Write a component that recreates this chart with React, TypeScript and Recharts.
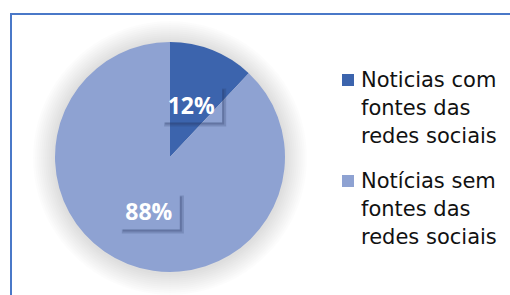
import React from "react";
import { PieChart, Pie, Cell, Legend } from "recharts";

const categories = [
  "Noticias com fontes das redes sociais",
  "Notícias sem fontes das redes sociais",
];
const values = [12, 88];
const colors = ["#3C64AD", "#8EA2D2"];

const data = categories.map((name, i) => ({ name, value: values[i] }));

const RAD = Math.PI / 180;
const glowRadii = [137, 135, 133, 131, 129, 127, 125, 123, 121, 119, 117];

const renderLabel = (props: any) => {
  const { cx, cy, midAngle, outerRadius, percent } = props;
  const r = outerRadius * 0.5;
  const x = cx + r * Math.cos(-midAngle * RAD);
  const y = cy + r * Math.sin(-midAngle * RAD);
  const w = 62;
  const h = 38;
  const l = x - w / 2;
  const t = y - h / 2;
  const o = 4;
  const d = `M${l + w},${t + o} L${l + w + o},${t + o} L${l + w + o},${t + h + o} L${l + o},${t + h + o} L${l + o},${t + h} L${l + w},${t + h} Z`;
  const d2 = `M${l + w},${t + o + 1} L${l + w + 2},${t + o + 1} L${l + w + 2},${t + h + 2} L${l + o + 1},${t + h + 2} L${l + o + 1},${t + h} L${l + w},${t + h} Z`;
  return (
    <g>
      <path d={d} fill="#22305a" opacity={0.2} />
      <path d={d2} fill="#22305a" opacity={0.25} />
      <text
        x={x}
        y={y + 1}
        textAnchor="middle"
        dominantBaseline="central"
        fill="#ffffff"
        fontFamily="'Open Sans', sans-serif"
        fontWeight={700}
        fontSize={23}
      >
        {`${Math.round(percent * 100)}%`}
      </text>
    </g>
  );
};

const LegendContent = () => (
  <div style={{ fontFamily: "'DejaVu Sans', sans-serif", fontSize: 21, lineHeight: "28px", color: "#111" }}>
    {categories.map((name, i) => (
      <div key={name} style={{ position: "relative", paddingLeft: 19, width: 150, marginBottom: i === 0 ? 17 : 0 }}>
        <span
          style={{
            position: "absolute",
            left: 0,
            top: 8,
            width: 12,
            height: 12,
            background: colors[i],
          }}
        />
        {name}
      </div>
    ))}
  </div>
);

export default function App() {
  return (
    <div style={{ position: "absolute", left: 0, top: 0, width: 510, height: 295, overflow: "hidden", background: "#fff" }}>
      <div
        style={{
          position: "absolute",
          left: 10,
          top: 13,
          width: 560,
          height: 360,
          borderLeft: "2px solid #4A78C8",
          borderTop: "2px solid #4A78C8",
        }}
      />
      <div style={{ position: "absolute", left: 0, top: 0 }}>
        <PieChart width={510} height={295} margin={{ top: 0, right: 0, bottom: 0, left: 0 }}>
          {glowRadii.map((gr) => (
            <Pie
              key={`glow-${gr}`}
              data={[{ name: "glow", value: 1 }]}
              dataKey="value"
              cx={170}
              cy={158}
              outerRadius={gr}
              startAngle={90}
              endAngle={-270}
              stroke="none"
              legendType="none"
              isAnimationActive={false}
            >
              <Cell fill="#000" fillOpacity={0.011} />
            </Pie>
          ))}
          <Pie
            data={data}
            dataKey="value"
            nameKey="name"
            cx={170}
            cy={157}
            outerRadius={115}
            startAngle={90}
            endAngle={-270}
            stroke="none"
            isAnimationActive={false}
            labelLine={false}
            label={renderLabel}
          >
            {data.map((d, i) => (
              <Cell key={d.name} fill={colors[i]} />
            ))}
          </Pie>
          <Legend
            content={<LegendContent />}
            layout="vertical"
            wrapperStyle={{ position: "absolute", left: 342, top: 66, width: 168 }}
          />
        </PieChart>
      </div>
    </div>
  );
}
